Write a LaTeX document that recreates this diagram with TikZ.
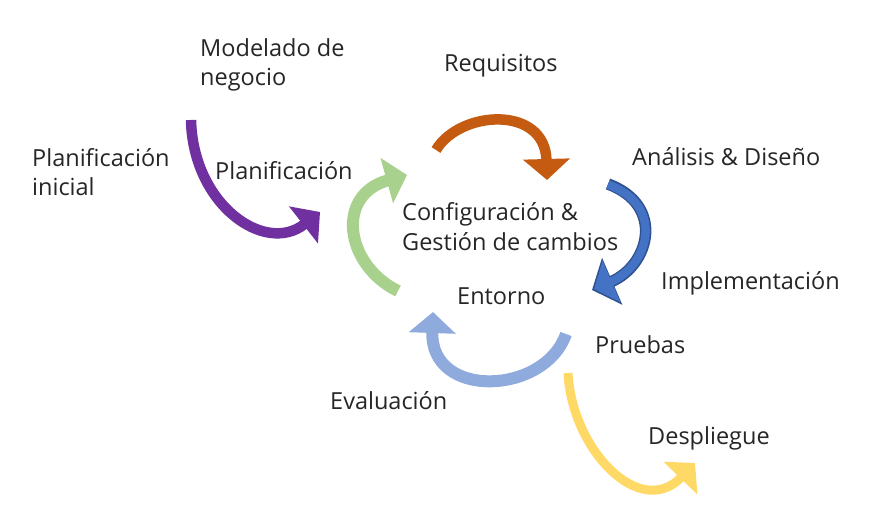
\documentclass[tikz,border=0pt]{standalone}
\usepackage{fontspec}
\setmainfont{Open Sans}
\usetikzlibrary{arrows.meta}
\definecolor{cpurple}{HTML}{7030A0}
\definecolor{corange}{HTML}{C55A11}
\definecolor{cblue}{HTML}{4472C4}
\definecolor{cblueedge}{HTML}{2F528F}
\definecolor{cgreen}{HTML}{A9D18E}
\definecolor{clblue}{HTML}{8FAADC}
\definecolor{cyellow}{HTML}{FFD966}
\definecolor{ctext}{HTML}{262626}
\tikzset{
  lbl/.style={anchor=west, align=left, inner sep=0pt, text=ctext,
    font=\fontsize{23.5}{29.5}\selectfont},
  bigarrow/.style={line width=10.5pt, -{Triangle[length=21pt,width=46pt]}},
}
\begin{document}
\begin{tikzpicture}[x=1pt,y=-1pt]
\useasboundingbox (0,0) rectangle (888,532);
% arrows
\draw[bigarrow, cpurple] (191,120) .. controls (193,205) and (265,255) .. (320,212);
\draw[bigarrow, corange] (436,150) .. controls (460,110) and (545,105) .. (547,180);
\draw[line width=11.5pt, cblueedge, -{Triangle[length=22pt,width=50pt]}] (608,184) .. controls (665,205) and (650,265) .. (592,290);
\draw[line width=8.5pt, cblue, -{Triangle[length=19pt,width=44pt]}] (608,184.6) .. controls (665,205) and (650,265) .. (594,289);
\draw[bigarrow, clblue, line width=12pt] (566,334) .. controls (545,395) and (430,400) .. (433,312);
\draw[bigarrow, cgreen, line width=12pt] (398,291) .. controls (345,265) and (335,195) .. (407,175);
\draw[bigarrow, cyellow, line width=9pt] (568,373) .. controls (572,450) and (640,520) .. (695,463);
% labels
\node[lbl] (modelado) at (200,65) {Modelado de\\negocio};
\node[lbl] (requisitos) at (444,66) {Requisitos};
\node[lbl] (planini) at (32,172) {Planificación\\inicial};
\node[lbl] (plan) at (215,171) {Planificación};
\node[lbl] (analisis) at (632,157) {Análisis \& Diseño};
\node[lbl] (config) at (402,226.5) {Configuración \&\\Gestión de cambios};
\node[lbl] (impl) at (661,283) {Implementación};
\node[lbl] (entorno) at (457,296) {Entorno};
\node[lbl] (pruebas) at (595,345) {Pruebas};
\node[lbl] (eval) at (330,401) {Evaluación};
\node[lbl] (despliegue) at (648,438) {Despliegue};
\end{tikzpicture}
\end{document}
